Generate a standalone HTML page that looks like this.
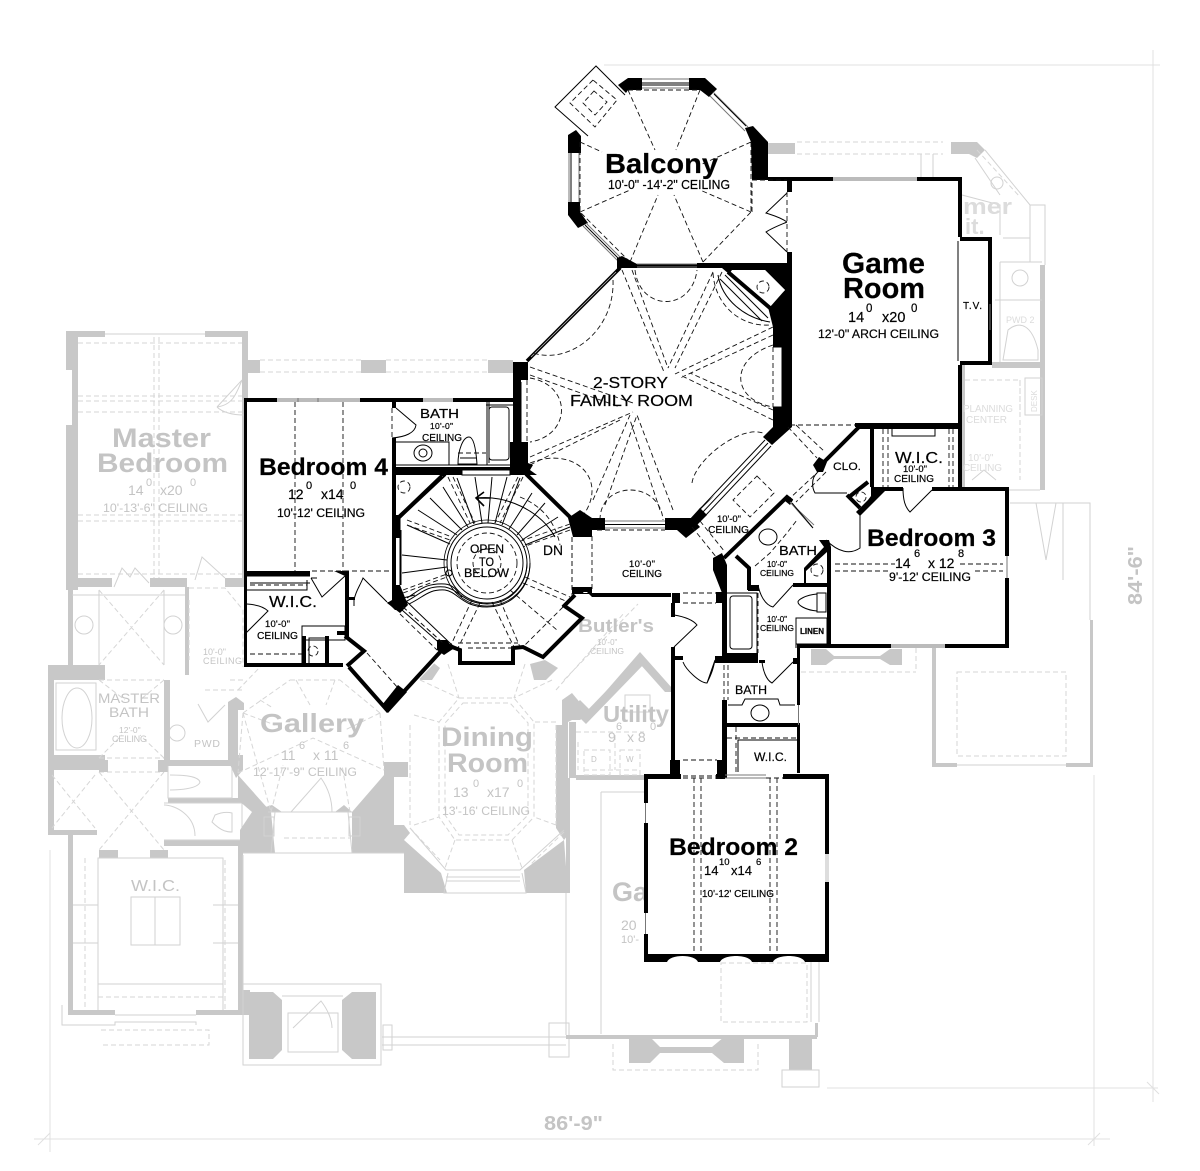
<!DOCTYPE html>
<html><head><meta charset="utf-8"><title>Second floor plan</title>
<style>
html,body{margin:0;padding:0;background:#fff}
svg{display:block}
text{font-family:"Liberation Sans",sans-serif}
.b{font-weight:bold}
.g text,text.g{fill:#c4c4c4}
.lt text{fill:#dcdcdc}
.bt text{stroke:#000;stroke-width:.2}
.gw{fill:#c8c8c8;stroke:none}
.gl{fill:none;stroke:#d2d2d2;stroke-width:1}
.gd{fill:none;stroke:#d6d6d6;stroke-width:1;stroke-dasharray:5 3}
.k{fill:#000;stroke:none}
.w{fill:none;stroke:#000;stroke-width:4}
.t{fill:none;stroke:#000;stroke-width:1}
.d{fill:none;stroke:#111;stroke-width:.9;stroke-dasharray:5 3}
.win{fill:none;stroke:#777;stroke-width:1}
</style></head><body>
<svg width="1200" height="1171" viewBox="0 0 1200 1171" xmlns="http://www.w3.org/2000/svg">
<rect width="1200" height="1171" fill="#fff"/>

<!-- dimension lines -->
<g fill="none" stroke="#e0e0e0" stroke-width="1">
<path d="M604 65L1160 65M1153 50V1102M827 1088H1158M34 1139H1110M50 850V1152M1094 775V1146M38 1145L50 1133M1088 1145L1100 1133M1147 1082L1159 1094"/>
</g>

<!-- GREY LOWER FLOOR -->
<g>
<!-- master bedroom -->
<path class="gw" d="M66 331H105V337H78V578H112V587H72V340H66ZM205 331H248V337H205ZM242 337H248V580H242ZM150 578H187V587H150ZM225 578H248V587H225ZM66 340H78V370H66ZM66 425H78V590H66Z"/>
<path class="gd" d="M78 343H242M78 396H242M78 401H242M78 515H242M78 521H242M78 574H242M154 337V578M159 337V578M78 412H242"/>
<path class="gl" d="M105 334H205M217 407L242 380M242 380C236 395 232 405 217 407M244 415C232 415 222 412 217 407"/>
<!-- porch above -->
<path class="gw" d="M248 360H260V373H248ZM361 360H386V373H361ZM488 360H513V373H488Z"/>
<path class="gd" d="M260 360H361M260 372H361M386 360H488M386 372H488"/>
<!-- master bath upper -->
<path class="gw" d="M68 587H73V667H68ZM185 587H189V675H185ZM48 665H105V680H54V755H105V770H54V830H97V835H73V1010H115V1015H68V835H48Z"/>
<path class="gl" d="M72 595H185M99 590V665M164 590V665M56 683H96V750H56ZM195 580L202 557L225 578M114 587L122 568L130 577L135 568L149 583"/>
<path class="gd" d="M99 590L164 665M164 590L99 665M99 680H164M99 758H164M99 680L125 700M164 680L140 700M99 758L122 735M164 758L140 735M99 772H164M99 772L164 850M164 772L99 850M52 775L95 828M95 775L52 828M189 588H225L243 610V667M189 600V660"/>
<circle class="gl" cx="84" cy="625" r="9"/><circle class="gl" cx="173" cy="625" r="9"/>
<ellipse class="gl" cx="77" cy="718" rx="15" ry="30"/>
<path class="gw" d="M99 760H108V772H99ZM158 760H168V772H158Z"/>
<circle class="gl" cx="177" cy="733" r="8"/>
<!-- wc / pwd -->
<path class="gw" d="M164 760H232V766H164ZM164 680H170V765H164ZM168 798H245V803H168ZM164 840H240V843H164ZM230 710H238V760H230Z"/>
<path class="gl" d="M168 766V798H232V766M170 775C178 775 198 775 200 782C198 789 178 790 170 790M164 803H242V840H164M215 815C222 812 228 812 232 813V832C228 832 222 832 212 822ZM164 805C175 805 195 815 195 836"/>
<path class="gl" d="M198 704L208 722L225 705"/>
<!-- WIC lower -->
<path class="gw" d="M68 835H73V1010H68ZM68 1010H115V1015H68ZM196 1010H250V1015H196ZM238 843H243V990H238ZM99 850H118V858H99ZM150 850H168V858H150ZM164 843H240V846H164Z"/>
<path class="gl" d="M98 858H223V984H98ZM98 858V1010M223 858V1010M73 905H98M73 943H98M213 905H238M213 943H238M131 897H180V945H131ZM155 897V945M62 1005V1025H115V1022H196V1025M115 1015H196M98 984H223"/>
<path class="gd" d="M85 858V1010M225 860V1010M98 997H223M101 1030H209V1045H101"/>
<!-- entry -->
<path class="gw" d="M249 992H273L282 1000V1050L273 1059H249ZM342 1000L352 992H376V1059H352L342 1050Z"/>
<path class="gw" d="M238 990H250V1015H238Z"/>
<path class="gl" d="M243 984H381V1065H243ZM282 996H343M288 1013H338V1052H288ZM293 1028L321 1001C328 1010 332 1020 332 1028"/>
<path class="gl" d="M382 1037H566M382 1045H566M383 1025H392V1050H383ZM549 1023H569V1057H549Z"/>
<!-- gallery -->
<path class="gw" d="M238 775L271 812L275 853H240V830L252 812L238 800ZM352 812L384 775L394 777V825H404L410 833L404 840V853H352Z"/>
<path class="gw" d="M228 702L236 697L244 703V710H236V755H243V770L236 778L228 760Z"/>
<path class="gw" d="M384 762H408V777H384ZM262 808L272 805L282 812H262ZM335 812L344 805L352 812Z"/>
<path fill="#fff" d="M275 812H352V853H275Z"/>
<path class="gl" d="M268 812H352M275 812L271 853H352L348 812M291 812L321 778C328 788 332 800 332 812M264 817H274V836H264ZM349 817H360V836H349ZM243 853H404M243 855V985"/>
<path class="gd" d="M243 713L290 680M380 713L340 680M243 713L238 773M380 713L384 770M238 773L313 738L384 770M271 812L283 765M350 812L342 765M260 700L273 708M290 680H340M243 713L271 812M284 838H350M296 680L310 705M335 680L326 705M380 713L345 730M243 713L275 725"/>
<path class="gd" d="M230 680H243M238 690L262 665M205 690H243"/>
<!-- dining -->
<path class="gw" d="M404 840L441 873L447 893H404ZM524 870L564 840L568 893H526ZM562 700L572 693L582 705V715L568 722V835L564 840L556 828V725H562Z"/>
<path class="gw" d="M414 664L430 660L440 668L432 680H420ZM530 664L545 660L558 668L546 680H534Z"/>
<path class="gl" d="M410 828L446 870H520L564 830M446 881H520M446 877H520M448 873L444 893H526L522 873"/>
<path class="gd" d="M459 698H514L534 722V817L512 840H455L439 817V722ZM463 703H510L528 723V815L508 835H459L445 815V723ZM414 715L439 722M420 680L459 698M552 680L514 698M556 722L534 722M556 825L534 817M414 825L439 817M455 840L445 868M512 840L522 868M410 828L440 860M564 832L530 865M410 725V825M556 725V825M448 664L459 698M525 664L514 698"/>
<!-- butler / utility -->
<path class="gw" d="M568 712L580 700L592 712L580 720H568ZM580 718L640 656L646 662L586 724Z"/>
<path class="gw" d="M600 698L640 652L672 688V692H665L640 664L610 698Z"/>
<path class="gw" d="M569 722H576V778H569ZM576 775H644V780H576ZM566 778H570V893H566ZM566 1035H627V1039H566Z"/>
<path class="gd" d="M540 650L590 590M556 690L625 612M564 680L638 604M576 732H644M578 742V770M615 735V770"/>
<path class="gl" d="M625 695H650V712H625ZM601 792H644M601 792V1034"/>
<path class="gd" d="M584 750H610V775H584ZM620 750H640V775H620ZM584 770H640"/>
<!-- garage -->
<path class="gw" d="M566 1035H817V1039H566ZM815 1023H818V1037H815ZM629 1037H650L660 1047H712L724 1037H744V1063H724L712 1053H660L650 1063H629ZM789 1037H812V1070H789Z"/>
<path class="gd" d="M721 963H807V1022H721ZM613 1044V1070H758V1044"/>
<path class="gl" d="M811 960V1022M819 960V1022M782 1070H819V1087H782ZM782 1070V1087M566 893V1035"/>
<!-- right: garage 3, etc -->
<path class="gw" d="M932 648H936V767H932ZM932 763H957V767H932ZM1066 763H1093V767H1066ZM1090 620H1093V767H1090Z"/>
<path class="gl" d="M1010 503H1090V620M1036 503L1046 560M1046 560L1056 503M1063 503V580"/>
<path class="gd" d="M957 672H1066V756H957ZM801 672H916M916 648V672"/>
<path class="gl" d="M957 765H1066"/>
<path class="gw" d="M811 649H826L834 656H880L890 649H902V665H890L880 659H834L826 665H811Z"/>
<!-- upper right -->
<path class="gw" d="M768 143H795V154H768ZM951 142H977L985 150L977 158L969 154H951ZM992 362H1045V368H992ZM1040 265H1045V490H1040ZM960 365H965V487H960Z"/>
<path class="gd" d="M797 142H943M797 154H943M977 150L1020 197M965 380H1020V412M1020 380V480"/>
<path class="gl" d="M921 154V177M933 154V177M985 150L1030 205H1045V265M962 195L1000 205V235M1000 262H1042M1000 262V362M1030 205V262M1025 378H1042V415H1025ZM965 490H1040M975 158L1000 195M1003 238H1030M995 300H1042M1008 330C1020 320 1032 325 1038 350V360H1003ZM972 480L984 470L996 480"/>
<circle class="gl" cx="997" cy="183" r="6"/><circle class="gl" cx="1020" cy="278" r="8"/>
</g>

<!-- grey text -->
<g class="g">
<text class="b" x="112" y="447" font-size="27" textLength="99" lengthAdjust="spacingAndGlyphs">Master</text>
<text class="b" x="97" y="472" font-size="27" textLength="131" lengthAdjust="spacingAndGlyphs">Bedroom</text>
<text x="128" y="495" font-size="14">14</text><text x="146" y="486" font-size="11">0</text><text x="160" y="495" font-size="14">x20</text><text x="190" y="486" font-size="11">0</text>
<text x="103" y="512" font-size="12" textLength="105" lengthAdjust="spacingAndGlyphs">10'-13'-6" CEILING</text>
<text x="203" y="655" font-size="9">10'-0"</text><text x="203" y="664" font-size="9" textLength="39">CEILING</text>
<text x="98" y="703" font-size="14" textLength="62" lengthAdjust="spacingAndGlyphs">MASTER</text>
<text x="109" y="717" font-size="14" textLength="40" lengthAdjust="spacingAndGlyphs">BATH</text>
<text x="119" y="733" font-size="8.5">12'-0"</text><text x="112" y="742" font-size="9" textLength="35">CEILING</text>
<text x="194" y="747" font-size="10.5" textLength="26">PWD</text>
<text class="b" x="260" y="732" font-size="26" textLength="104" lengthAdjust="spacingAndGlyphs">Gallery</text>
<text x="281" y="760" font-size="14">11</text><text x="299" y="749" font-size="11">6</text><text x="313" y="760" font-size="14">x 11</text><text x="343" y="749" font-size="11">6</text>
<text x="253" y="776" font-size="12" textLength="104" lengthAdjust="spacingAndGlyphs">12'-17'-9" CEILING</text>
<text class="b" x="441" y="746" font-size="27" textLength="92" lengthAdjust="spacingAndGlyphs">Dining</text>
<text class="b" x="447" y="772" font-size="27" textLength="81" lengthAdjust="spacingAndGlyphs">Room</text>
<text x="453" y="797" font-size="14">13</text><text x="473" y="787" font-size="11">0</text><text x="487" y="797" font-size="14">x17</text><text x="517" y="787" font-size="11">0</text>
<text x="442" y="815" font-size="12" textLength="88" lengthAdjust="spacingAndGlyphs">13'-16' CEILING</text>
<text x="131" y="891" font-size="16" textLength="49" lengthAdjust="spacingAndGlyphs">W.I.C.</text>
<text class="b" x="578" y="632" font-size="18" textLength="76" lengthAdjust="spacingAndGlyphs">Butler's</text>
<text x="597" y="645" font-size="8">10'-0"</text><text x="590" y="654" font-size="8.5" textLength="34">CEILING</text>
<text class="b" x="603" y="722" font-size="23" textLength="66" lengthAdjust="spacingAndGlyphs">Utility</text>
<text x="608" y="742" font-size="14">9</text><text x="616" y="730" font-size="11">6</text><text x="627" y="742" font-size="14">x 8</text><text x="650" y="730" font-size="11">0</text>
<text x="591" y="762" font-size="8">D</text><text x="626" y="762" font-size="8">W</text>
<text class="b" x="612" y="901" font-size="27">Ga</text>
<text x="621" y="930" font-size="14">20</text><text x="621" y="943" font-size="11">10'-</text>
<text class="b" x="544" y="1130" font-size="20" textLength="59" lengthAdjust="spacingAndGlyphs">86'-9"</text>
<text class="b" transform="translate(1142 605) rotate(-90)" font-size="20" textLength="59" lengthAdjust="spacingAndGlyphs">84'-6"</text>
</g>
<g class="lt">
<text class="b" x="963" y="214" font-size="22" textLength="49" lengthAdjust="spacingAndGlyphs">mer</text>
<text class="b" x="965" y="234" font-size="22">it.</text>
<text x="963" y="412" font-size="10" textLength="50" lengthAdjust="spacingAndGlyphs">PLANNING</text>
<text x="966" y="423" font-size="10" textLength="41" lengthAdjust="spacingAndGlyphs">CENTER</text>
<text x="968" y="461" font-size="10">10'-0"</text><text x="963" y="471" font-size="10" textLength="39">CEILING</text>
<text x="1006" y="323" font-size="9">PWD 2</text>
<text transform="translate(1037 412) rotate(-90)" font-size="8">DESK</text>
</g>

<!-- WHITE MASK of upper floor -->
<path fill="#fff" d="M628 78H705L768 142V178H962V237H992V365H962V487H1009V648H800V773L829 775V962H644V775H671V595H592L582 618L543 657L523 647L513 663H460L447 650L387 713L343 667H244V398H513V362L617 262L580 212L568 200V130L618 85Z"/>

<!-- BLACK PLAN -->
<!-- balcony -->
<path class="k" d="M618 85L628 78H642V90H628L626 93ZM689 78H705L717 89L709 97L700 90H689ZM745 128L753 126L768 142V180H752L751 142ZM568 135L576 130L581 136V153H568ZM568 202H580V212L588 223L578 228L568 215Z"/>
<path class="win" d="M642 79H689M642 88H689M713 92L748 127M710 96L745 131M569 153V202M579 153V202M583 226L618 261M586 223L621 258"/>
<path class="t" d="M642 83H689M642 85H689M714 94L746 126M571 153V202M585 225L620 260"/>
<path class="t" d="M625 95L596 66L555 107L588 136"/>
<path class="d" d="M593 80L570 103L595 127L617 100ZM594 91L583 103L595 115L607 102Z"/>
<path class="d" d="M628 90H700M751 142V212M580 142V212M628 90L655 150M700 90L676 150M751 142L700 165M751 212L700 190M580 142L602 152M580 212L630 190M630 262L658 195M703 262L674 195M703 262L751 212M630 262L580 212"/>
<!-- family room top -->
<path class="k" d="M617 258L622 256L637 264H697V263H792V427L772 445L763 437L773 427V407H782V347H773V327L768 307L785 290L765 270H732L729 274L722 268H637V268H622L617 271Z"/>
<path fill="#fff" d="M732 270H765L785 290L770 307Z"/>
<path class="w" d="M728 272L770 308"/>
<path class="t" d="M725 275L768 318M720 279L762 321"/>
<circle cx="763" cy="287" r="6" class="d" stroke-dasharray="2 2"/>
<path class="win" d="M637 264H697M637 267H697"/>
<path class="t" d="M637 265.500H697"/>
<!-- game room -->
<path class="k" d="M768 177H833V181H792V192H787V181H768ZM917 177H962V237H992V365H962V427H855V423H958V365H960V237H958V181H917ZM787 252H792V290H787Z"/>
<path class="k" d="M962 237H992V241H962ZM988 237H992V304H988ZM988 330H992V365H988ZM962 361H992V365H962Z"/>
<path class="win" d="M833 178H917M833 180H917M990 304V330"/>
<path fill="#fff" d="M960 241H988V361H960Z"/>
<path class="t" d="M958 241V361"/>
<path class="t" d="M787 193L766 213C772 215 780 217 787 222M787 252L766 232C772 228 780 225 787 222"/>
<path class="d" d="M787 192V252M752 180H787M790 425H855M752 212V180"/>
<!-- family room left -->
<path class="k" d="M513 362H528V380H521V442H528V463L533 465L530 470L537 475H510V442H513Z"/>
<path fill="none" stroke="#000" stroke-width="3.600" d="M527 361L620 268"/>
<path fill="none" stroke="#bbb" stroke-width=".8" d="M531 357L616 272"/>
<path class="d" d="M527 380V442M773 347V407"/>
<path class="t" d="M521 382V442M773 347H782V407H773"/>
<!-- vault lines -->
<path class="d" d="M622 270L664 372M632 270L668 368M713 272L668 368M722 272L675 368M773 327L675 374M773 335L680 378M530 367L633 403M530 375L620 407M773 420L680 375M773 410L690 373M530 457L633 412M530 465L620 420M593 500L630 415M605 505L637 415M673 510L637 415M660 510L630 420"/>
<path class="d" d="M635 270C640 312 692 312 697 270M613 280C615 330 570 365 533 353M713 273C715 305 740 327 770 325M773 345C728 360 732 400 773 407M530 378C572 385 572 435 530 442M530 463C575 445 610 480 582 517M692 483C695 460 740 425 763 433M600 520C600 480 660 480 663 520"/>
<path class="t" d="M718 275C722 300 745 318 770 322"/>
<!-- stair / hall blocks -->
<path class="k" d="M580 510L568 518L573 537H592V530H605V518H592ZM665 518H678L692 518L715 495L700 508L692 518L700 527L686 538L677 530H665Z"/>
<path class="k" d="M689 520L700 508L707 515L692 530Z"/>
<path class="t" d="M702 513L768 443M699 510L765 440M705 516L771 446"/>
<path class="win" d="M605 521H665M605 528H665"/>
<path class="t" d="M605 524.500H665"/>
<path class="d" d="M597 530H665M592 536V590M572 537V590M692 527L717 558M700 521L725 552M788 427L817 458M796 425L825 452M820 470L788 500M826 472L796 502"/>
<path class="d" d="M757 476L774 493L750 517L733 500Z"/>
<path class="k" d="M572 587H592V592H572Z"/>
<path class="k" d="M583 593H671V597H592L585 590ZM572 589H592V594H572Z"/>
<!-- stair room -->
<path class="w" d="M445 474L397 519M526 474L575 522"/>
<path class="k" d="M392 467H530V475H396V515H400V538H396V585H392V402H396V408H392ZM392 585H400L408 605L400 613L387 603L392 600Z"/>
<path fill="#fff" d="M396 476H443L398 515H396Z"/>
<path class="w" d="M442 476L396 520"/>
<circle class="d" cx="404" cy="487" r="6" stroke-dasharray="2 2"/>
<path class="t" d="M400 518V585M401 530V585"/>
<path class="t" d="M402 555L447 560M402 573L447 567M407 525L450 544M418 510L457 535M430 498L462 530M443 487L468 527M457 478L474 524M475 477L482 523M492 477L488 523M507 477L495 523M520 478L502 525M532 493L509 529M545 503L517 535M558 517L522 540M570 527L525 545"/>
<path fill="#fff" d="M462 470H510V475H462Z"/>
<path class="t" d="M462 470H510V475H462Z"/>
<path class="d" d="M448 477L470 523M453 477L475 523M523 477L500 523M518 477L495 523M570 530L523 547M570 524L521 541M525 577L570 597M523 583L568 602M510 590L557 630M500 600L520 647M492 602L514 647M472 600L450 647M480 603L458 648M403 593L447 577M403 590L447 574M407 525L450 540M407 520L452 537M403 607L443 643M572 537V597M458 643H518M563 607L523 647"/>
<path class="t" d="M415 595L403 598M405 602C420 595 425 585 445 587C460 590 462 603 487 604C510 604 527 585 527 563M409 604C424 597 428 589 445 590C458 592 462 607 487 607C512 607 530 587 530 563M407 598C420 590 425 583 445 584C455 585 458 593 462 597"/>
<circle class="t" cx="487" cy="563" r="40" stroke-width="2"/>
<circle cx="487" cy="563" r="36" fill="none" stroke="#000" stroke-width="1"/>
<circle cx="487" cy="563" r="43" fill="none" stroke="#000" stroke-width=".8"/>
<circle class="d" cx="487" cy="563" r="30"/>
<circle class="d" cx="487" cy="563" r="14"/>
<circle cx="449" cy="573" r="3" fill="none" stroke="#000" stroke-width="1"/>
<path class="t" d="M478 498C505 495 540 510 555 537"/>
<path class="d" d="M520 497C540 505 555 520 560 545"/>
<path fill="none" stroke="#000" stroke-width="1.600" d="M484 492L476 498L484 506M476 498H490"/>
<!-- stair bottom -->
<path class="w" d="M563 605L582 618L543 657L523 647L513 648V663H460V650L447 645M563 607L575 595"/>
<path class="k" d="M437 640L447 640L453 649L444 655L437 650Z"/>
<path class="d" d="M468 648H513"/>
<path class="t" d="M460 650L452 645L405 600"/>
<path class="d" d="M403 607L443 643"/>
<!-- BR4 -->
<path class="k" d="M244 398H277V402H247V571H310V576H247V664H244ZM360 398H423V402H360ZM453 398H517V402H453ZM244 663H343V667H244ZM345 572H349V637H345ZM334 571H349V576H345ZM337 631H349V635H337Z"/>
<path class="win" d="M277 399H360M277 401H360M423 399H453M423 401H453M318 398V402M298 398V402"/>
<path class="t" d="M246 576H310M250 583H310M247 590H307V580"/>
<path class="d" d="M295 402V571M343 402V571M312 571H392M250 585H307M250 654H302"/>
<path class="t" d="M311 578L322 597L345 576M311 578H317"/>
<path class="t" d="M247 604C262 605 267 610 268 611L246 633M302 640H345V626H302V663"/>
<path class="k" d="M302 636H306V667H302ZM325 636H329V667H325Z"/>
<path class="t" d="M309 667V638H325"/>
<circle class="d" cx="313" cy="651" r="5" stroke-dasharray="2 2"/>
<!-- BR4 angled closet -->
<path class="w" d="M345 636L364 651L347 666"/>
<path class="w" d="M349 667L387 710L442 650"/>
<path class="k" d="M382 705L398 685L407 692L388 713Z"/>
<path class="t" d="M354 606V600C356 590 360 586 363 578L387 602"/>
<path class="k" d="M349 597H355V600H349Z"/>
<path class="k" d="M387 602H400V610H395Z"/>
<path class="d" d="M367 653L398 688M400 614L437 650"/>
<path class="t" d="M402 610L444 647"/>
<!-- bath 4 -->
<path class="k" d="M392 438H396V467H392Z"/>
<path class="t" d="M396 408L416 425C415 433 405 437 392 438M396 442H449V465M396 465H488M487 402V465H516M486 405H513M489 402V463M449 442V465"/>
<path class="d" d="M392 408V438M458 453H486"/>
<rect x="489" y="407" width="20" height="53" rx="3" class="t"/>
<ellipse cx="423" cy="453" rx="9" ry="8" class="t" stroke-width="1.400"/><circle cx="423" cy="453" r="4" class="t"/>
<path class="t" d="M458 464C458 450 463 437 469 437C474 437 476 450 477 464ZM460 458H476"/>
<!-- hall right -->
<path class="k" d="M713 558L722 553L727 565V593H722L713 570ZM716 592H727V603H716ZM672 593H680V603H672Z"/>
<path class="k" d="M671 603H675V617H671ZM671 647H675V660H671ZM671 656H683V660H671ZM715 656H727V663H715ZM722 593H727V663H722ZM671 660H675V765H671ZM670 760H680V778H670ZM717 760H727V778H717Z"/>
<path class="d" d="M683 593H716M683 603H716M683 760H717M683 776H717"/>
<path class="t" d="M674 615C686 617 693 620 697 625L674 647M683 662C686 670 700 683 707 683L715 660C713 670 711 675 707 683"/>
<!-- bedroom hall diag -->
<path class="w" d="M724 558L787 497L792 501"/>
<path class="k" d="M786 495L793 500L790 505L785 501Z"/>
<path class="win" d="M790 502L812 527M795 507L814 525"/>
<path class="t" d="M792 503L813 528"/>
<path class="w" d="M736 556L749 568V590"/>
<path class="k" d="M748 585H759V591H748Z"/>
<path class="k" d="M722 653H758V663H722Z"/>
<path class="t" d="M727 593H757V653"/>
<rect x="730" y="596" width="22" height="53" rx="3" class="t"/>
<path class="d" d="M758 593V653"/>
<!-- bath 3 -->
<path class="k" d="M819 540H829L831 547V647H827V552L806 571V583H830V587H793V583H804V568L824 547Z"/>
<ellipse cx="768" cy="537" rx="9" ry="8" class="t" stroke-width="1.400"/>
<path class="d" d="M755 566L770 553L787 533L797 520" stroke-dasharray="9 2"/>
<path class="t" d="M758 585C760 595 765 605 773 607L793 585"/>
<path class="t" d="M817 593V612H826V593ZM817 594C805 595 798 600 798 602C798 605 805 610 817 611M796 618H827V644H796ZM796 618V648"/>
<circle class="d" cx="817" cy="570" r="6" stroke-dasharray="2 2"/>
<path class="t" d="M826 540C838 552 850 555 860 548V512"/>
<!-- Bedroom 3 -->
<path class="k" d="M797 644H891V648H797ZM945 644H1009V648H945ZM1005 487H1009V556H1005ZM1005 578H1009V648H1005ZM932 487H1009V491H932ZM873 487H903V491H873Z"/>
<path class="win" d="M891 645H945M891 647H945M1007 556V578"/>
<path class="t" d="M903 488C903 500 905 507 910 512L932 490"/>
<path class="d" d="M835 564H895M835 571H890M960 564H1003M975 571H1003"/>
<!-- CLO + WIC 3 -->
<path class="k" d="M855 425H962V487H958V429H874V487H870V429H859ZM813 465L819 457L827 462L823 472L817 472Z"/>
<path class="w" d="M859 427L823 463"/>
<path class="t" d="M817 473C811 478 812 488 815 493H847"/>
<path class="w" d="M847 495L860 508"/>
<path class="k" d="M871 487H885V491L860 516L856 512L868 500L871 496Z"/>
<path class="w" d="M868 482L849 497"/>
<circle class="d" cx="861" cy="497" r="5" stroke-dasharray="2 2"/>
<path class="d" d="M883 429V487M888 429V487M949 429V487M953 429V487"/>
<path class="t" d="M892 429V436H935V429"/>
<!-- lower bath & wic -->
<path class="k" d="M797 648H800V705H797ZM797 725H800V773H797ZM722 700H727V773H722ZM722 723H800V727H722Z"/>
<path class="d" d="M724 665V700M728 665V700M736 727V772M727 738H797"/>
<path class="win" d="M798.500 705V725"/>
<path class="t" d="M762 662C763 670 766 680 772 683L793 662M728 705H742L745 699H778L780 705H795M738 772V740H797"/>
<ellipse cx="760" cy="713" rx="9" ry="8" class="t" stroke-width="1.400"/>
<path class="k" d="M759 660H765V663H759ZM793 658H800V664H793Z"/>
<!-- Bedroom 2 -->
<path class="k" d="M644 774H681V779H648V803H644ZM644 823H648V913H644ZM644 934H648V954H644ZM644 954H829V962H644ZM716 774H725V779H716ZM783 774H829V854H825V779H783ZM825 882H829V954H825Z"/>
<path fill="#fff" d="M667 962C670 954 695 954 698 962ZM720 962C723 954 749 954 752 962ZM773 962C776 954 802 954 805 962Z"/>
<path class="win" d="M645.500 803V823M645.500 913V934M725 775H766M725 778H766"/>
<path fill="#ddd" d="M825 854H829V882H825Z"/>
<path class="d" d="M694 778V954M701 778V954M770 778V954M777 778V954M683 778H725M766 778H783"/>

<!-- BLACK TEXT -->
<g fill="#000" class="bt">
<text class="b" x="605" y="173" font-size="28" textLength="113" lengthAdjust="spacingAndGlyphs">Balcony</text>
<text x="608" y="189" font-size="12.500" textLength="122" lengthAdjust="spacingAndGlyphs">10'-0" -14'-2" CEILING</text>
<text class="b" x="842" y="273" font-size="29" textLength="83" lengthAdjust="spacingAndGlyphs">Game</text>
<text class="b" x="843" y="298" font-size="29" textLength="82" lengthAdjust="spacingAndGlyphs">Room</text>
<text x="848" y="322" font-size="14.500">14</text><text x="866" y="312" font-size="11.500">0</text><text x="882" y="322" font-size="14.500">x20</text><text x="911" y="312" font-size="11.500">0</text>
<text x="818" y="338" font-size="12" textLength="121" lengthAdjust="spacingAndGlyphs">12'-0" ARCH CEILING</text>
<text x="963" y="309" font-size="10" textLength="19">T.V.</text>
<text x="593" y="388" font-size="16" textLength="75" lengthAdjust="spacingAndGlyphs">2-STORY</text>
<text x="570" y="406" font-size="16" textLength="123" lengthAdjust="spacingAndGlyphs">FAMILY ROOM</text>
<text class="b" x="259" y="475" font-size="24.500" textLength="129" lengthAdjust="spacingAndGlyphs">Bedroom 4</text>
<text x="288" y="499" font-size="14">12</text><text x="306" y="489" font-size="11">0</text><text x="321" y="499" font-size="14">x14</text><text x="350" y="489" font-size="11">0</text>
<text x="277" y="517" font-size="11.500" textLength="88" lengthAdjust="spacingAndGlyphs">10'-12' CEILING</text>
<text x="420" y="418" font-size="13" textLength="39" lengthAdjust="spacingAndGlyphs">BATH</text>
<text x="430" y="429" font-size="8.500" textLength="23">10'-0"</text>
<text x="422" y="441" font-size="10" textLength="40" lengthAdjust="spacingAndGlyphs">CEILING</text>
<text x="269" y="607" font-size="16" textLength="48" lengthAdjust="spacingAndGlyphs">W.I.C.</text>
<text x="265" y="627" font-size="9.500" textLength="25">10'-0"</text>
<text x="257" y="639" font-size="10" textLength="41" lengthAdjust="spacingAndGlyphs">CEILING</text>
<text x="470" y="553" font-size="12" textLength="34" lengthAdjust="spacingAndGlyphs">OPEN</text>
<text x="479" y="566" font-size="12" textLength="15" lengthAdjust="spacingAndGlyphs">TO</text>
<text x="464" y="577" font-size="12" textLength="45" lengthAdjust="spacingAndGlyphs">BELOW</text>
<text x="543" y="555" font-size="14" textLength="20" lengthAdjust="spacingAndGlyphs">DN</text>
<text x="629" y="567" font-size="9.500" textLength="26">10'-0"</text>
<text x="622" y="577" font-size="10" textLength="40" lengthAdjust="spacingAndGlyphs">CEILING</text>
<text x="717" y="522" font-size="9.500" textLength="24">10'-0"</text>
<text x="708" y="533" font-size="10" textLength="41" lengthAdjust="spacingAndGlyphs">CEILING</text>
<text x="779" y="555" font-size="13" textLength="38" lengthAdjust="spacingAndGlyphs">BATH</text>
<text x="767" y="567" font-size="8" textLength="20">10'-0"</text>
<text x="760" y="576" font-size="8.500" textLength="34" lengthAdjust="spacingAndGlyphs">CEILING</text>
<text x="833" y="470" font-size="11" textLength="28" lengthAdjust="spacingAndGlyphs">CLO.</text>
<text x="895" y="463" font-size="16" textLength="48" lengthAdjust="spacingAndGlyphs">W.I.C.</text>
<text x="903" y="472" font-size="9.500" textLength="24">10'-0"</text>
<text x="894" y="482" font-size="10" textLength="40" lengthAdjust="spacingAndGlyphs">CEILING</text>
<text class="b" x="867" y="546" font-size="24.500" textLength="129" lengthAdjust="spacingAndGlyphs">Bedroom 3</text>
<text x="895" y="568" font-size="14">14</text><text x="914" y="557" font-size="11">6</text><text x="928" y="568" font-size="14">x 12</text><text x="958" y="557" font-size="11">8</text>
<text x="889" y="581" font-size="11.500" textLength="82" lengthAdjust="spacingAndGlyphs">9'-12' CEILING</text>
<text x="767" y="622" font-size="8" textLength="20">10'-0"</text>
<text x="760" y="631" font-size="8.500" textLength="34" lengthAdjust="spacingAndGlyphs">CEILING</text>
<text class="b" x="800" y="634" font-size="8" textLength="24" lengthAdjust="spacingAndGlyphs">LINEN</text>
<text x="735" y="694" font-size="12" textLength="32" lengthAdjust="spacingAndGlyphs">BATH</text>
<text x="754" y="761" font-size="11.500" textLength="33" lengthAdjust="spacingAndGlyphs">W.I.C.</text>
<text class="b" x="669" y="855" font-size="24.500" textLength="129" lengthAdjust="spacingAndGlyphs">Bedroom 2</text>
<text x="704" y="875" font-size="13">14</text><text x="719" y="865" font-size="9.500">10</text><text x="731" y="875" font-size="13">x14</text><text x="756" y="865" font-size="9.500">6</text>
<text x="702" y="897" font-size="10" textLength="72" lengthAdjust="spacingAndGlyphs">10'-12' CEILING</text>
</g>
</svg>
</body></html>
